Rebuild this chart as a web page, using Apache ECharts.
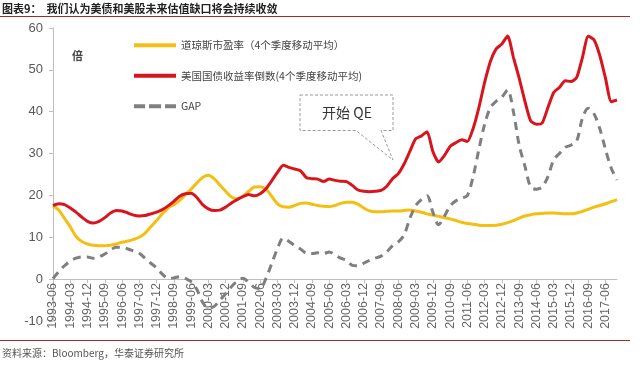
<!DOCTYPE html>
<html><head><meta charset="utf-8">
<script src="https://cdn.jsdelivr.net/npm/echarts@6/dist/echarts.min.js"></script>
<style>html,body{margin:0;padding:0;background:#fff}#c{width:640px;height:367px}</style>
</head><body><div id="c"></div>
<script>
const categories = [
'1993-06','1993-09','1993-12',
'1994-03','1994-06','1994-09','1994-12',
'1995-03','1995-06','1995-09','1995-12',
'1996-03','1996-06','1996-09','1996-12',
'1997-03','1997-06','1997-09','1997-12',
'1998-03','1998-06','1998-09','1998-12',
'1999-03','1999-06','1999-09','1999-12',
'2000-03','2000-06','2000-09','2000-12',
'2001-03','2001-06','2001-09','2001-12',
'2002-03','2002-06','2002-09','2002-12',
'2003-03','2003-06','2003-09','2003-12',
'2004-03','2004-06','2004-09','2004-12',
'2005-03','2005-06','2005-09','2005-12',
'2006-03','2006-06','2006-09','2006-12',
'2007-03','2007-06','2007-09','2007-12',
'2008-03','2008-06','2008-09','2008-12',
'2009-03','2009-06','2009-09','2009-12',
'2010-03','2010-06','2010-09','2010-12',
'2011-03','2011-06','2011-09','2011-12',
'2012-03','2012-06','2012-09','2012-12',
'2013-03','2013-06','2013-09','2013-12',
'2014-03','2014-06','2014-09','2014-12',
'2015-03','2015-06','2015-09','2015-12',
'2016-03','2016-06','2016-09','2016-12',
'2017-03','2017-06','2017-09','2017-12'
];
const dowPE = [
17.5,16.5,14.5,12.5,10.2,9.0,8.4,8.1,8.0,8.0,
8.1,8.4,8.8,9.1,9.5,10.0,11.0,12.5,14.0,15.6,
17.0,17.8,18.8,20.2,21.5,23.0,24.3,24.8,24.0,22.5,
21.0,19.6,19.2,19.8,21.0,22.0,22.1,21.5,19.8,18.0,
17.3,17.2,17.6,18.1,18.2,17.9,17.6,17.4,17.3,17.6,
18.1,18.4,18.4,17.9,17.0,16.3,16.1,16.1,16.2,16.3,
16.3,16.4,16.5,16.3,16.0,15.6,15.3,15.0,14.7,14.4,
14.0,13.6,13.3,13.1,12.9,12.8,12.8,12.9,13.1,13.5,
14.0,14.6,15.1,15.4,15.6,15.7,15.8,15.8,15.7,15.6,
15.6,15.8,16.2,16.7,17.2,17.6,18.0,18.5,19.0
];
const invYield = [
17.6,18.0,17.8,17.0,16.0,14.8,13.8,13.4,13.8,14.7,
15.8,16.4,16.3,15.8,15.3,15.1,15.2,15.6,16.0,16.6,
17.5,18.6,19.8,20.4,20.5,19.5,17.8,16.8,16.4,16.5,
17.2,18.2,19.0,19.7,20.2,19.9,20.4,21.6,23.5,25.5,
27.2,26.7,26.3,25.9,24.3,24.0,23.9,23.3,23.9,23.6,
23.4,23.3,22.4,21.3,21.0,20.9,21.0,21.2,22.2,24.0,
25.2,27.5,30.5,33.5,34.2,35.2,30.5,28.0,29.5,31.7,
32.6,33.3,32.9,36.0,41.0,47.0,52.0,55.0,56.2,58.1,
53.0,48.0,42.5,37.8,37.0,37.3,41.0,44.6,45.8,47.4,
47.2,48.2,53.0,58.0,57.2,53.5,48.0,42.4,42.8
];
const gap = [
0.1,1.8,3.2,4.3,5.0,5.3,5.3,5.0,5.3,6.0,
7.0,7.6,7.6,7.2,6.7,6.2,5.0,3.8,2.7,1.2,
0.2,0.3,0.6,0.2,-0.6,-2.5,-5.5,-7.0,-6.5,-5.0,
-3.5,-1.8,-0.5,0.2,-0.8,-2.0,-2.3,0.2,3.7,7.3,
9.8,9.0,8.0,7.2,6.2,6.1,6.3,6.1,6.5,5.8,
5.0,4.5,3.3,3.2,3.8,4.5,5.0,5.5,6.5,8.0,
8.9,10.5,14.5,17.5,19.0,19.9,16.0,13.0,15.0,17.5,
18.7,19.3,20.0,24.5,31.0,37.0,41.0,42.5,43.5,45.2,
40.0,32.0,27.0,22.0,21.5,22.0,24.5,28.5,30.0,31.5,
32.0,33.0,38.5,40.8,39.5,36.0,31.0,26.5,23.7
];
const yTicks = {min:-10, max:60, interval:10};
const seriesNames = ['道琼斯市盈率（4个季度移动平均）','美国国债收益率倒数(4个季度移动平均)','GAP'];

const chart = echarts.init(document.getElementById('c'), null, {renderer:'canvas'});
const font = '"Noto Sans CJK SC","Noto Sans",sans-serif';
const solidIcon = 'path://M0,0h42v4h-42z';
const dashIcon = 'path://M0,0h11v4h-11z M15,0h12v4h-12z M31,0h11v4h-11z';
chart.setOption({
  backgroundColor:'#fff',
  animation:false,
  textStyle:{fontFamily:font},
  grid:{left:53, right:23, top:28, bottom:46},
  legend:{
    orient:'vertical', left:129, top:35, itemWidth:42, itemHeight:4, itemGap:20,
    textStyle:{fontSize:10.5, color:'#444', fontFamily:font},
    data:[
      {name:seriesNames[0], icon:solidIcon},
      {name:seriesNames[1], icon:solidIcon},
      {name:seriesNames[2], icon:dashIcon}
    ]
  },
  xAxis:[{
    type:'category', data:categories, boundaryGap:false,
    axisLine:{onZero:true, lineStyle:{color:'#bfbfbf'}},
    axisTick:{interval:2, length:4, lineStyle:{color:'#bfbfbf'}},
    axisLabel:{show:false},
    splitLine:{show:false}
  },{
    type:'category', data:categories, boundaryGap:false, position:'bottom', offset:-42,
    axisLine:{show:false, onZero:false},
    axisTick:{show:false},
    axisLabel:{interval:2, rotate:90, fontSize:12.5, color:'#666', margin:4, fontFamily:'"Liberation Sans",Arial,sans-serif'},
    splitLine:{show:false}
  }],
  yAxis:{
    type:'value', min:yTicks.min, max:yTicks.max, interval:yTicks.interval,
    axisLine:{show:true, lineStyle:{color:'#bfbfbf'}},
    axisTick:{show:true, length:4, lineStyle:{color:'#bfbfbf'}},
    axisLabel:{fontSize:13, color:'#595959', margin:10, fontFamily:'"Liberation Sans",Arial,sans-serif'},
    splitLine:{show:false}
  },
  series:[
    {name:seriesNames[0], type:'line', data:dowPE, symbol:'none', smooth:0.3,
     lineStyle:{color:'#F5BE12', width:3}, itemStyle:{color:'#F5BE12'}, z:2},
    {name:seriesNames[1], type:'line', data:invYield, symbol:'none', smooth:0.2,
     lineStyle:{color:'#D8141C', width:3}, itemStyle:{color:'#D8141C'}, z:4},
    {name:seriesNames[2], type:'line', data:gap, symbol:'none', smooth:0.3,
     lineStyle:{color:'#7f7f7f', width:3, type:[8,6]}, itemStyle:{color:'#7f7f7f'}, z:3}
  ],
  graphic:[
    {type:'text', left:2, top:3, style:{text:'图表9：  我们认为美债和美股未来估值缺口将会持续收敛', font:'bold 11px "Noto Sans CJK SC"', fill:'#222'}},
    {type:'line', shape:{x1:0,y1:16.5,x2:630,y2:16.5}, style:{stroke:'#A52A2A', lineWidth:1}},
    {type:'line', shape:{x1:0,y1:340.5,x2:630,y2:340.5}, style:{stroke:'#A52A2A', lineWidth:1}},
    {type:'text', left:2, top:348, style:{text:'资料来源：Bloomberg，华泰证券研究所', font:'10px "Noto Sans CJK SC"', fill:'#555'}},
    {type:'text', left:72, top:50, style:{text:'倍', font:'bold 11px "Noto Sans CJK SC"', fill:'#444'}},
    {type:'polygon', shape:{points:[[300,95],[393,95],[393,130.5],[381,130.5],[393,160],[356,130.5],[300,130.5]]},
     style:{fill:'rgba(255,255,255,0)', stroke:'#9a9a9a', lineWidth:1, lineDash:[3,2]}, z:10},
    {type:'text', x:347, y:113, style:{text:'开始 QE', font:'14px "Noto Sans CJK SC"', fill:'#333', align:'center', verticalAlign:'middle'}, z:11}
  ]
});
</script></body></html>
